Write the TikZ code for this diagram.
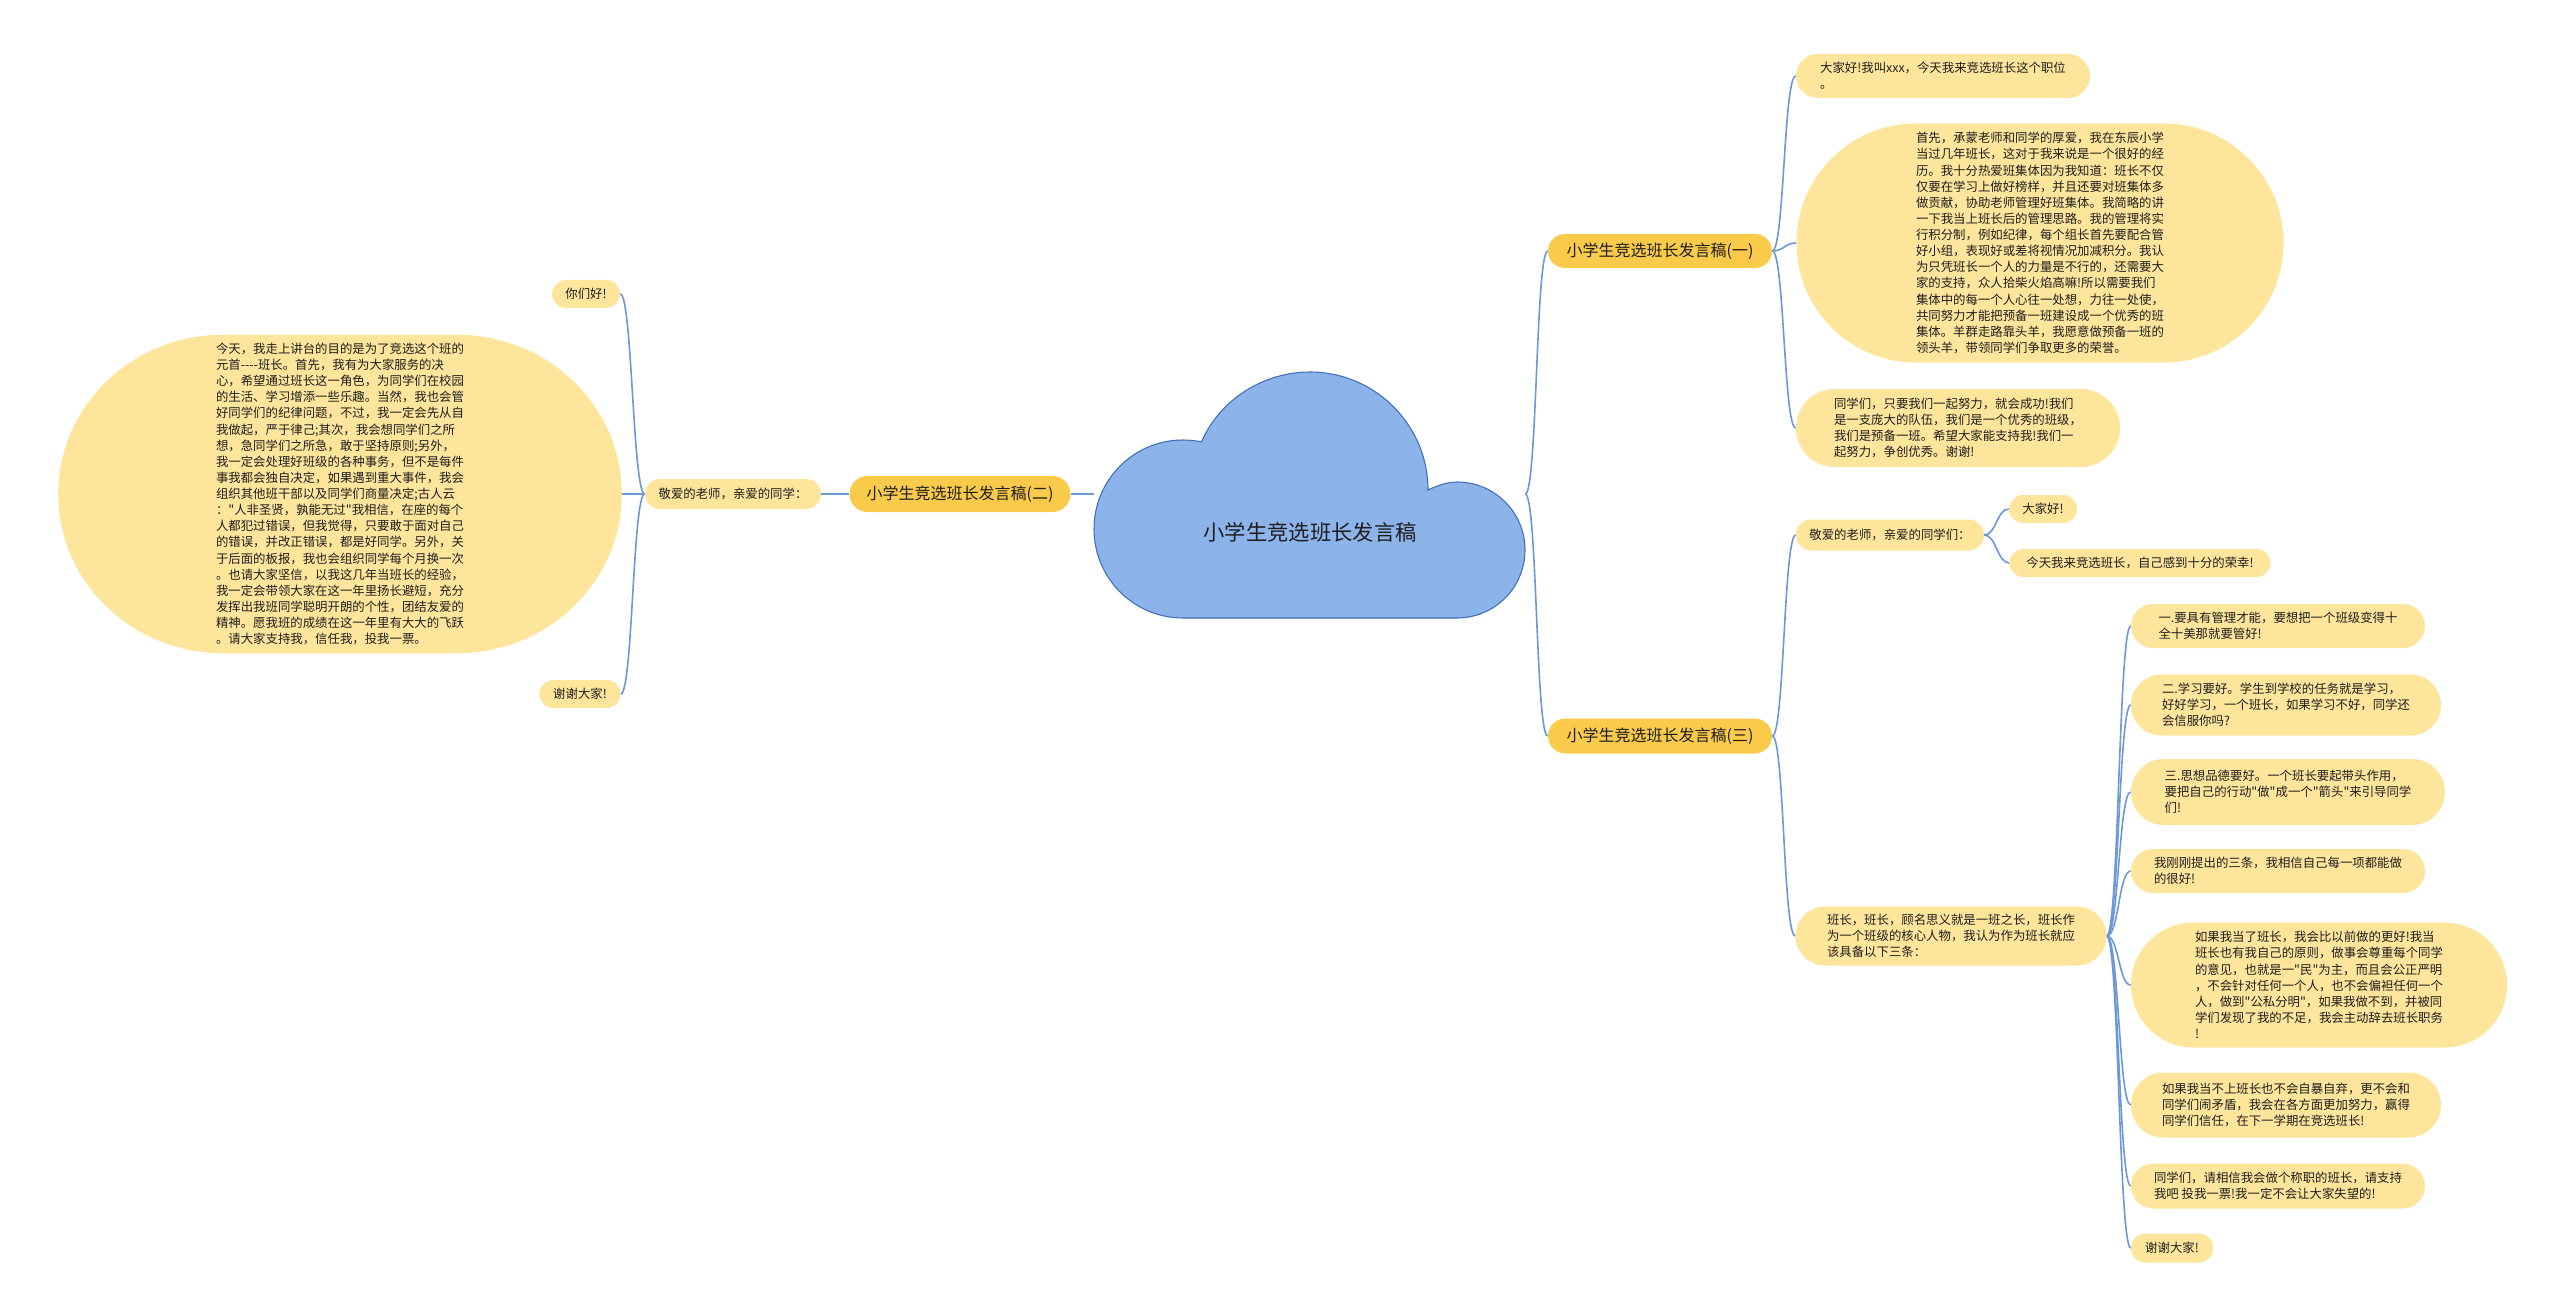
\documentclass[tikz,border=0pt]{standalone}
\usepackage{fontspec}
\newfontfamily\cjk{Noto Sans CJK SC}
\usetikzlibrary{shapes.misc,backgrounds,calc}
\definecolor{titley}{HTML}{FACB4A}
\definecolor{leafy}{HTML}{FEE59C}
\definecolor{cloudf}{HTML}{8DB3EB}
\definecolor{cloudd}{HTML}{3F6FB8}
\definecolor{linkb}{HTML}{6C97D9}
\definecolor{txt}{HTML}{1E1E1E}
\newcommand\capsulefill[3]{%
\fill[leafy] ($(#1.north west)+(#2,0)$) -- ($(#1.north east)+(-#2,0)$)
 .. controls +(0.5523*#2,0) and +(0,-0.5523*#3) .. ($(#1.north east)+(0,#3)$)
 -- ($(#1.south east)+(0,-#3)$)
 .. controls +(0,0.5523*#3) and +(0.5523*#2,0) .. ($(#1.south east)+(-#2,0)$)
 -- ($(#1.south west)+(#2,0)$)
 .. controls +(-0.5523*#2,0) and +(0,0.5523*#3) .. ($(#1.south west)+(0,-#3)$)
 -- ($(#1.north west)+(0,#3)$)
 .. controls +(0,-0.5523*#3) and +(-0.5523*#2,0) .. ($(#1.north west)+(#2,0)$) -- cycle;}
\begin{document}
\begin{tikzpicture}[x=0.75pt,y=-0.75pt,
  box/.style 2 args={minimum width=#1*0.75pt, minimum height=#2*0.75pt},
  leaf/.style={rounded rectangle, fill=leafy, inner sep=0pt, align=left, text=txt, font=\cjk\fontsize{9.3}{12.1}\selectfont},
  leaftext/.style={rectangle, inner sep=0pt, align=left, text=txt, font=\cjk\fontsize{9.3}{12.1}\selectfont},
  title/.style={rounded rectangle, fill=titley, inner sep=0pt, text=txt, font=\cjk\fontsize{12}{14}\selectfont},
  conn/.style={draw=linkb, line width=1.2pt},
  rc/.style={to path={.. controls +(12,0) and +(-12,0) .. (\tikztotarget)}},
  lc/.style={to path={.. controls +(-12,0) and +(12,0) .. (\tikztotarget)}},
]
\useasboundingbox (0,0) rectangle (2560,1316);

% central cloud
\node[rectangle, inner sep=0pt, box={431}{246}] (cloud) at (1309.5,494) {};
\draw[fill=cloudf, draw=cloudd, line width=0.8pt]
  (1201.5,441.9) .. controls (1220,399) and (1264,372) .. (1310,372)
  .. controls (1375,372) and (1428,425) .. (1428,490)
  .. controls (1437,485.7) and (1447,482) .. (1457,482)
  .. controls (1494.6,482) and (1525,512.4) .. (1525,550)
  .. controls (1525,587.6) and (1494.6,618) .. (1457,618)
  -- (1183,618)
  .. controls (1133.8,618) and (1094,578.2) .. (1094,529)
  .. controls (1094,479.8) and (1133.8,440) .. (1183,440)
  .. controls (1189.2,440) and (1195.4,440.6) .. (1201.5,441.9) -- cycle;
\node[text=txt, font=\cjk\fontsize{16}{18}\selectfont] (cloudlabel) at (1310,532) {小学生竞选班长发言稿};

% left branch
\node[title, box={221}{36}] (t2) at (960,494) {小学生竞选班长发言稿(二)};
\node[leaf, box={176}{30}] (l0) at (733,494) {敬爱的老师，亲爱的同学：};
\node[leaf, box={68}{28}] (l1) at (586,294) {你们好!};
\node[leaftext, box={563}{318}] (l2) at (340,494) {今天，我走上讲台的目的是为了竞选这个班的\\
元首----班长。首先，我有为大家服务的决\\
心，希望通过班长这一角色，为同学们在校园\\
的生活、学习增添一些乐趣。当然，我也会管\\
好同学们的纪律问题，不过，我一定会先从自\\
我做起，严于律己;其次，我会想同学们之所\\
想，急同学们之所急，敢于坚持原则;另外，\\
我一定会处理好班级的各种事务，但不是每件\\
事我都会独自决定，如果遇到重大事件，我会\\
组织其他班干部以及同学们商量决定;古人云\\
："人非圣贤，孰能无过"我相信，在座的每个\\
人都犯过错误，但我觉得，只要敢于面对自己\\
的错误，并改正错误，都是好同学。另外，关\\
于后面的板报，我也会组织同学每个月换一次\\
。也请大家坚信，以我这几年当班长的经验，\\
我一定会带领大家在这一年里扬长避短，充分\\
发挥出我班同学聪明开朗的个性，团结友爱的\\
精神。愿我班的成绩在这一年里有大大的飞跃\\
。请大家支持我，信任我，投我一票。};
\node[leaf, box={81}{28}] (l3) at (580,694) {谢谢大家!};

% right branch one
\node[title, box={224}{34}] (t1) at (1660,251) {小学生竞选班长发言稿(一)};
\node[leaf, box={294}{44}] (a1) at (1943,76) {大家好!我叫xxx，今天我来竞选班长这个职位\\。};
\node[leaf, box={487}{239}] (a2) at (2040,243) {首先，承蒙老师和同学的厚爱，我在东辰小学\\
当过几年班长，这对于我来说是一个很好的经\\
历。我十分热爱班集体因为我知道：班长不仅\\
仅要在学习上做好榜样，并且还要对班集体多\\
做贡献，协助老师管理好班集体。我简略的讲\\
一下我当上班长后的管理思路。我的管理将实\\
行积分制，例如纪律，每个组长首先要配合管\\
好小组，表现好或差将视情况加减积分。我认\\
为只凭班长一个人的力量是不行的，还需要大\\
家的支持，众人拾柴火焰高嘛!所以需要我们\\
集体中的每一个人心往一处想，力往一处使，\\
共同努力才能把预备一班建设成一个优秀的班\\
集体。羊群走路靠头羊，我愿意做预备一班的\\
领头羊，带领同学们争取更多的荣誉。};
\node[leaf, box={324}{78}] (a3) at (1958,428) {同学们，只要我们一起努力，就会成功!我们\\
是一支庞大的队伍，我们是一个优秀的班级，\\
我们是预备一班。希望大家能支持我!我们一\\
起努力，争创优秀。谢谢!};

% right branch three
\node[title, box={224}{35}] (t3) at (1660,736) {小学生竞选班长发言稿(三)};
\node[leaf, box={188}{31}] (b1) at (1890,535) {敬爱的老师，亲爱的同学们：};
\node[leaf, box={68}{28}] (b1a) at (2043,509) {大家好!};
\node[leaf, box={261}{28}] (b1b) at (2140,563) {今天我来竞选班长，自己感到十分的荣幸!};
\node[leaf, box={311}{59}] (b2) at (1951,936) {班长，班长，顾名思义就是一班之长，班长作\\
为一个班级的核心人物，我认为作为班长就应\\
该具备以下三条：};
\node[leaf, box={294}{44}] (c1) at (2278,626) {一.要具有管理才能，要想把一个班级变得十\\
全十美那就要管好!};
\node[leaf, box={310}{61}] (c2) at (2286,705) {二.学习要好。学生到学校的任务就是学习，\\
好好学习，一个班长，如果学习不好，同学还\\
会信服你吗?};
\node[leaf, box={314}{66}] (c3) at (2288,792) {三.思想品德要好。一个班长要起带头作用，\\
要把自己的行动"做"成一个"箭头"来引导同学\\
们!};
\node[leaf, box={294}{44}] (c4) at (2278,871) {我刚刚提出的三条，我相信自己每一项都能做\\
的很好!};
\node[leaf, box={376}{125}] (c5) at (2319,985) {如果我当了班长，我会比以前做的更好!我当\\
班长也有我自己的原则，做事会尊重每个同学\\
的意见，也就是一"民"为主，而且会公正严明\\
，不会针对任何一个人，也不会偏袒任何一个\\
人，做到"公私分明"，如果我做不到，并被同\\
学们发现了我的不足，我会主动辞去班长职务\\
!};
\node[leaf, box={310}{65}] (c6) at (2286,1105) {如果我当不上班长也不会自暴自弃，更不会和\\
同学们闹矛盾，我会在各方面更加努力，赢得\\
同学们信任，在下一学期在竞选班长!};
\node[leaf, box={294}{45}] (c7) at (2278,1186) {同学们，请相信我会做个称职的班长，请支持\\
我吧 投我一票!我一定不会让大家失望的!};
\node[leaf, box={82}{29}] (c8) at (2172,1248) {谢谢大家!};

\begin{scope}[on background layer]
\fill[white] (0,0) rectangle (2560,1316);
\capsulefill{l2}{165}{159}
\draw[conn] (l0.east) -- (t2.west);
\draw[conn] (t2.east) -- (cloud.west);
\draw[conn] (l0.west) to[lc] (l1.east);
\draw[conn] (l0.west) to[lc] (l2.east);
\draw[conn] (l0.west) to[lc] (l3.east);
\draw[conn] (cloud.east) to[rc] (t1.west);
\draw[conn] (cloud.east) to[rc] (t3.west);
\draw[conn] (t1.east) to[rc] (a1.west);
\draw[conn] (t1.east) to[rc] (a2.west);
\draw[conn] (t1.east) to[rc] (a3.west);
\draw[conn] (t3.east) to[rc] (b1.west);
\draw[conn] (t3.east) to[rc] (b2.west);
\draw[conn] (b1.east) to[rc] (b1a.west);
\draw[conn] (b1.east) to[rc] (b1b.west);
\foreach \c in {c1,c2,c3,c4,c5,c6,c7,c8}
  \draw[conn] (b2.east) to[rc] (\c.west);
\end{scope}
\end{tikzpicture}
\end{document}
